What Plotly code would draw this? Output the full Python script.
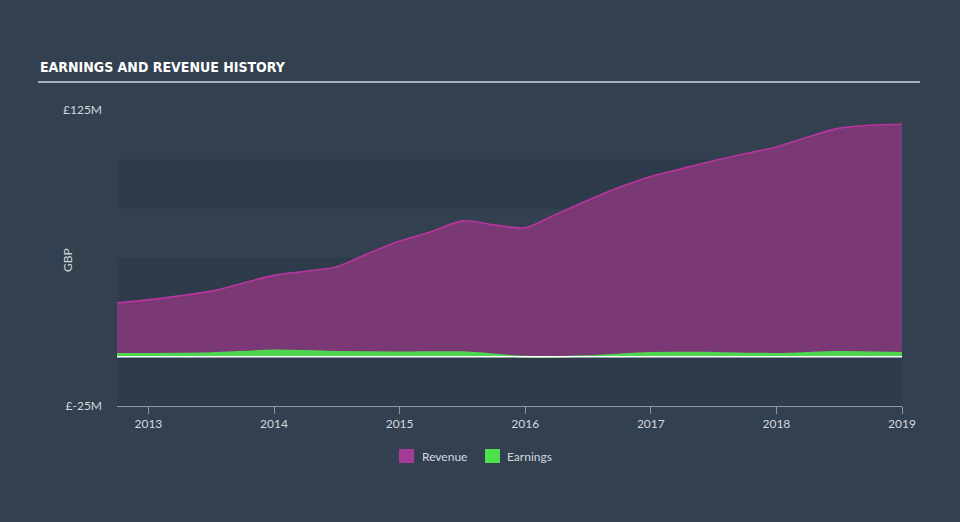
import plotly.graph_objects as go

# Data (fractional years, GBP millions)
rev_x = [2012.75, 2013.0, 2013.25, 2013.5, 2013.75, 2014.0, 2014.25, 2014.5, 2014.75, 2015.0,
         2015.25, 2015.5, 2015.75, 2016.0, 2016.25, 2016.5, 2016.75, 2017.0, 2017.25, 2017.5,
         2017.75, 2018.0, 2018.25, 2018.5, 2018.75, 2019.0]
rev_y = [27.3, 28.8, 30.8, 33.2, 37.2, 41.2, 43.3, 45.6, 52.3, 58.6,
         63.3, 68.8, 66.8, 65.3, 72.3, 79.3, 85.8, 91.3, 95.3, 99.3,
         102.8, 106.3, 111.3, 115.8, 117.3, 117.8]
earn_x = [2012.75, 2013.0, 2013.5, 2014.0, 2014.5, 2015.0, 2015.5, 2016.0, 2016.5,
          2017.0, 2017.5, 2018.0, 2018.5, 2019.0]
earn_y = [1.5, 1.5, 1.8, 3.2, 2.5, 2.2, 2.3, 0.0, 0.3, 2.0, 2.0, 1.5, 2.5, 2.0]
tick_years = [2013, 2014, 2015, 2016, 2017, 2018, 2019]
y_ticks = [-25, 125]
y_tick_text = ["£-25M", "£125M"]
band_ranges = [(75, 100), (25, 50), (-25, 0)]
series_names = ["Revenue", "Earnings"]
series_colors = ["#a83a98", "#4fe04f"]

BG = "#334050"
BAND = "#2e3b4a"
FONT = "Lato"
TXT = "#d3d8de"

# plot area in pixels
L, R, T, B = 117, 902, 110, 406
W, H = R - L, B - T


def px(x):
    return (x - L) / W


def py(y):
    return (B - y) / H


fig = go.Figure()

fig.add_trace(go.Scatter(
    x=rev_x, y=rev_y, mode="lines", fill="tozeroy", name=series_names[0],
    line=dict(color="#b8359f", width=1.6, shape="spline", smoothing=0.8),
    fillcolor="#7a3874", showlegend=False, hoverinfo="skip"))
fig.add_trace(go.Scatter(
    x=earn_x, y=earn_y, mode="lines", fill="tozeroy", name=series_names[1],
    line=dict(color="#4fd64f", width=1.6, shape="spline", smoothing=0.8),
    fillcolor="#4fd64f", showlegend=False, hoverinfo="skip"))

shapes = []
for lo, hi in band_ranges:
    shapes.append(dict(type="rect", xref="paper", yref="y", x0=0, x1=1, y0=lo, y1=hi,
                       fillcolor=BAND, line=dict(width=0), layer="below"))
# zero line
shapes.append(dict(type="line", xref="paper", yref="y", x0=0, x1=1, y0=0, y1=0,
                   line=dict(color="#ffffff", width=1.5), layer="above"))
# title underline
shapes.append(dict(type="line", xref="paper", yref="paper",
                   x0=px(38), x1=px(920), y0=py(82), y1=py(82),
                   line=dict(color="#a9b0b9", width=2)))

annotations = [
    dict(text="<b>EARNINGS AND REVENUE HISTORY</b>", xref="paper", yref="paper",
         x=px(38), y=py(67), xanchor="left", yanchor="middle", showarrow=False,
         font=dict(family="DejaVu Sans Condensed", size=14, color="#ffffff")),
    dict(text="GBP", xref="paper", yref="paper", x=px(67), y=py(260), textangle=-90,
         xanchor="center", yanchor="middle", showarrow=False,
         font=dict(family=FONT, size=12, color=TXT)),
]

# manual legend
leg_items = [(399, 420), (485, 505)]
for (sx, tx), name, col in zip(leg_items, series_names, series_colors):
    shapes.append(dict(type="rect", xref="paper", yref="paper",
                       x0=px(sx), x1=px(sx + 15), y0=py(449), y1=py(463),
                       fillcolor=col, line=dict(width=0)))
    annotations.append(dict(text=name, xref="paper", yref="paper", x=px(tx), y=py(456),
                            xanchor="left", yanchor="middle", showarrow=False,
                            font=dict(family=FONT, size=12, color=TXT)))

fig.update_layout(
    width=960, height=522,
    paper_bgcolor=BG, plot_bgcolor="rgba(0,0,0,0)",
    margin=dict(l=L, r=960 - R, t=T, b=522 - B),
    font=dict(family=FONT, color=TXT, size=12),
    shapes=shapes, annotations=annotations,
    showlegend=False,
)
fig.update_xaxes(range=[2012.75, 2019.0], tickvals=tick_years, ticktext=[str(t) for t in tick_years],
                 showgrid=False, zeroline=False, showline=True, linecolor="#8d99a6", linewidth=1,
                 ticks="outside", ticklen=7, tickcolor="#8d99a6", tickfont=dict(size=12, color=TXT))
fig.update_yaxes(range=[-25, 125], tickvals=y_ticks, ticktext=y_tick_text, showgrid=False,
                 zeroline=False, showline=False, ticks="", ticklabelstandoff=14,
                 tickfont=dict(size=12, color=TXT))

fig.write_html("out.html")
